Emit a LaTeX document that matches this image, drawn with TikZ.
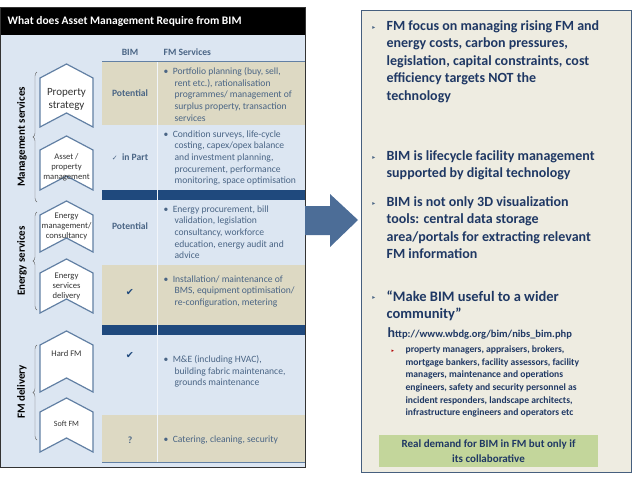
\documentclass[tikz,border=0pt]{standalone}
\usepackage{fontspec}
\setmainfont{Carlito}
\newfontfamily\symfont{DejaVu Sans}
\usetikzlibrary{calc,positioning,decorations.pathreplacing}

\definecolor{panel}{HTML}{DCE6F2}
\definecolor{tan}{HTML}{DDD9C3}
\definecolor{band}{HTML}{1F497D}
\definecolor{ink}{HTML}{1F3864}
\definecolor{soft}{HTML}{4A6585}
\definecolor{beige}{HTML}{EEECE1}
\definecolor{leaf}{HTML}{C3D69B}

\newcommand{\chevron}[3]{% name, top, bottom
  \draw[chev] (40,#2+14) -- (66.5,#2) -- (93,#2+14) -- (93,#3) -- (66.5,#3-14) -- (40,#3) -- cycle;
  \coordinate (#1) at (66.5,{(#2+#3)/2+4});}

\begin{document}
\begin{tikzpicture}[x=1pt, y=-1pt, semithick,
    chev/.style={draw=band!70, line width=1.2pt, fill=white},
    celltext/.style={text=soft, font=\fontsize{9.6}{11.6}\selectfont, align=left, anchor=north west},
    bimtext/.style={text=soft, font=\bfseries\fontsize{9.6}{11}\selectfont},
    boxtext/.style={text=black!80, font=\fontsize{8.6}{10}\selectfont, align=center},
    grouptext/.style={font=\bfseries\fontsize{11}{12}\selectfont, rotate=90},
    point/.style={text=ink, font=\bfseries\fontsize{14}{17.5}\selectfont, align=left, anchor=north west},
    tick/.style={text=soft, font=\symfont\fontsize{6}{7}\selectfont}]

    \useasboundingbox (0,0) rectangle (638,479);

    % left panel
    \fill[panel] (0,35) rectangle (305,467);
    \fill[black] (0,7) rectangle (305,35);
    \node[anchor=west, text=white, font=\bfseries\fontsize{11.5}{13}\selectfont] (title) at (4,21) {What does Asset Management Require from BIM};
    \node[bimtext] (bimhead) at (130,52) {BIM};
    \node[bimtext, anchor=west] (fmhead) at (160,52) {FM Services};
    \draw[band!70] (102,61) -- (305,61);
    \fill[tan] (102,62) rectangle (305,125);
    \fill[band] (102,190) rectangle (305,200);
    \fill[tan] (102,265) rectangle (305,325);
    \fill[band] (102,325) rectangle (305,335);
    \fill[tan] (102,415) rectangle (305,462);
    \draw[white!60!panel] (157,62) -- (157,462);
    \draw[band!70] (102,462) -- (305,462);
    \draw[black!80, line width=1pt] (0,7) rectangle (305,467);

    % chevrons
    \chevron{ps}{64}{127}
    \chevron{ap}{136}{190}
    \chevron{em}{201}{252}
    \chevron{ed}{259}{313}
    \chevron{hf}{331}{392}
    \chevron{sf}{398}{452}
    \node[boxtext, font=\fontsize{11}{13}\selectfont] at (ps) {Property\\strategy};
    \node[boxtext] at (ap) {Asset /\\property\\management};
    \node[boxtext] at ($(em)+(0,-4)$) {Energy\\management/\\consultancy};
    \node[boxtext] at ($(ed)+(0,-4)$) {Energy\\services\\delivery};
    \node[boxtext] at (66.5,354) {Hard FM};
    \node[boxtext, font=\fontsize{8}{9}\selectfont] at (66.5,424) {Soft FM};

    % groups
    \draw[decorate, decoration={brace, amplitude=4pt}, black!60, thin] (37,202) -- (37,72);
    \draw[decorate, decoration={brace, amplitude=4pt}, black!60, thin] (37,310) -- (37,212);
    \draw[decorate, decoration={brace, amplitude=4pt}, black!60, thin] (37,440) -- (37,345);
    \node[grouptext] (ms) at (22,137) {Management services};
    \node[grouptext] (es) at (22,261) {Energy services};
    \node[grouptext] (fd) at (22,392) {FM delivery};

    % BIM column
    \node[bimtext] at (130,93) {Potential};
    \node[bimtext] at (130,157) {{\symfont\mdseries\fontsize{7}{8}\selectfont ✓}\ \ in Part};
    \node[bimtext] at (130,226) {Potential};
    \node[bimtext, text=band] at (130,292) {\symfont ✔};
    \node[bimtext, text=band] at (130,355) {\symfont ✔};
    \node[bimtext] at (130,440) {?};

    % FM services column
    \node[celltext] at (160,64) {•\ \ Portfolio planning (buy, sell,\\\hspace{11pt}rent etc.), rationalisation\\\hspace{11pt}programmes/ management of\\\hspace{11pt}surplus property, transaction\\\hspace{11pt}services};
    \node[celltext] at (160,127) {•\ \ Condition surveys, life-cycle\\\hspace{11pt}costing, capex/opex balance\\\hspace{11pt}and investment planning,\\\hspace{11pt}procurement, performance\\\hspace{11pt}monitoring, space optimisation};
    \node[celltext] at (160,202) {•\ \ Energy procurement, bill\\\hspace{11pt}validation, legislation\\\hspace{11pt}consultancy, workforce\\\hspace{11pt}education, energy audit and\\\hspace{11pt}advice};
    \node[celltext] at (160,272) {•\ \ Installation/ maintenance of\\\hspace{11pt}BMS, equipment optimisation/\\\hspace{11pt}re-configuration, metering};
    \node[celltext] at (160,352) {•\ \ M\&E (including HVAC),\\\hspace{11pt}building fabric maintenance,\\\hspace{11pt}grounds maintenance};
    \node[celltext] at (160,432) {•\ \ Catering, cleaning, security};

    % arrow
    \fill[band!80!white] (305,206) -- (330,206) -- (330,194) -- (358,220) -- (330,247) -- (330,235) -- (305,235) -- cycle;

    % right panel
    \draw[fill=beige, draw=band!60!gray, line width=1pt] (361,10) rectangle (631,472);
    \node[tick] at (374,28) {▸};
    \node[point] (p1) at (383,17) {FM focus on managing rising FM and\\energy costs, carbon pressures,\\legislation, capital constraints, cost\\efficiency targets NOT the\\technology};
    \node[tick] at (374,158) {▸};
    \node[point] (p2) at (383,147) {BIM is lifecycle facility management\\supported by digital technology};
    \node[tick] at (374,204) {▸};
    \node[point] (p3) at (383,193) {BIM is not only 3D visualization\\tools: central data storage\\area/portals for extracting relevant\\FM information};
    \node[tick] at (374,298) {▸};
    \node[point, font=\fontsize{14.5}{17.5}\selectfont\bfseries] (p4) at (383,287) {“Make BIM useful to a wider\\community”};
    \node[point, font=\fontsize{10.5}{12}\selectfont\bfseries] (url) at (384,324) {{\fontsize{14}{14}\selectfont h}ttp://www.wbdg.org/bim/nibs\_bim.php};
    \node[tick, text=red!70!black, font=\symfont\fontsize{5}{6}\selectfont] at (393,351) {▸};
    \node[point, font=\bfseries\fontsize{9.6}{12.7}\selectfont] (p5) at (402,342) {property managers, appraisers, brokers,\\mortgage bankers, facility assessors, facility\\managers, maintenance and operations\\engineers, safety and security personnel as\\incident responders, landscape architects,\\infrastructure engineers and operators etc};
    \fill[leaf] (379,435) rectangle (598,467);
    \node[text=ink, font=\bfseries\fontsize{11}{15}\selectfont, align=center] (demand) at (488.5,451) {Real demand for BIM in FM but only if\\its collaborative};

\end{tikzpicture}
\end{document}
